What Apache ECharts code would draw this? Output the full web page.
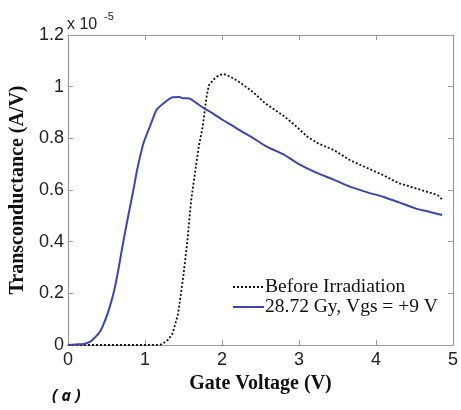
<!DOCTYPE html>
<html><head><meta charset="utf-8">
<script src="https://cdn.jsdelivr.net/npm/echarts@6/dist/echarts.min.js"></script>
<style>html,body{margin:0;padding:0;background:#fff}#c{width:461px;height:410px}</style>
</head><body><div id="c"></div>
<script>
const xTicks = [0,1,2,3,4,5];
const yTicks = [0,0.2,0.4,0.6,0.8,1.0,1.2];
const beforeX = [0,0.5,1.0,1.2,1.24,1.3,1.36,1.43,1.5,1.55,1.6,1.64,1.7,1.75,1.8,1.83,1.9,1.96,2.02,2.1,2.22,2.4,2.56,2.81,2.95,3.11,3.25,3.45,3.66,3.85,4.09,4.3,4.5,4.73,4.8,4.86];
const beforeY = [0,0,0,0.001,0.007,0.02,0.045,0.12,0.27,0.40,0.56,0.645,0.77,0.845,0.96,1.006,1.03,1.044,1.049,1.04,1.019,0.98,0.936,0.885,0.85,0.806,0.78,0.755,0.716,0.69,0.658,0.626,0.608,0.587,0.58,0.563];
const irrX = [0,0.1,0.2,0.24,0.3,0.34,0.4,0.45,0.53,0.6,0.66,0.725,0.79,0.85,0.9,0.98,1.07,1.15,1.26,1.36,1.45,1.49,1.55,1.6,1.7,1.77,1.9,2.0,2.13,2.26,2.4,2.58,2.81,3.0,3.24,3.45,3.66,3.9,4.09,4.3,4.51,4.7,4.86];
const irrY = [0,0.002,0.004,0.007,0.015,0.026,0.045,0.071,0.135,0.21,0.30,0.41,0.51,0.60,0.68,0.78,0.85,0.91,0.94,0.959,0.96,0.955,0.955,0.951,0.93,0.916,0.893,0.873,0.85,0.826,0.802,0.768,0.736,0.70,0.665,0.64,0.613,0.59,0.574,0.552,0.529,0.515,0.503];
const seriesNames = ['Before Irradiation','28.72 Gy, Vgs = +9 V'];

const pair = (xs, ys) => xs.map((x,i)=>[x, ys[i]]);
const tickFont = {fontFamily:'Liberation Sans, Arial', fontSize:18, color:'#222'};
const serifBold = {fontFamily:'Liberation Serif, Times New Roman', fontWeight:'bold', fontSize:20, color:'#111'};
const chart = echarts.init(document.getElementById('c'));
const axisCommon = {
  type:'value',
  axisLine:{show:true, onZero:false, lineStyle:{color:'#999', width:1.2}},
  axisTick:{show:true, inside:true, length:5, lineStyle:{color:'#999'}},
  splitLine:{show:false}
};
chart.setOption({
  animation:false,
  grid:{left:66.5, right:3, top:35, bottom:65, containLabel:false},
  legend:{
    left:227, top:272, orient:'vertical', itemWidth:31, itemHeight:10, itemGap:0,
    data:seriesNames,
    itemStyle:{opacity:0},
    textStyle:{fontFamily:'Liberation Serif, Times New Roman', fontSize:19.5, lineHeight:19, color:'#111', padding:[0,0,0,-4]}
  },
  xAxis:[
    Object.assign({}, axisCommon, {min:0, max:5, interval:1, position:'bottom',
      name:'Gate Voltage (V)', nameLocation:'middle', nameGap:22,
      nameTextStyle:serifBold,
      axisLabel:Object.assign({margin:6, formatter:v=>String(v)}, tickFont)}),
    Object.assign({}, axisCommon, {min:0, max:5, interval:1, position:'top', axisLabel:{show:false}})
  ],
  yAxis:[
    Object.assign({}, axisCommon, {min:0, max:1.2, interval:0.2, position:'left',
      name:'Transconductance (A/V)', nameLocation:'middle', nameGap:36,
      nameTextStyle:serifBold,
      axisLabel:Object.assign({margin:4, formatter:v=>{const r=Math.round(v*10)/10; return r===0?'0':(r===1?'1':String(r));}}, tickFont)}),
    Object.assign({}, axisCommon, {min:0, max:1.2, interval:0.2, position:'right', axisLabel:{show:false}})
  ],
  graphic:[
    {type:'text', left:67, top:17, style:{text:'x 10', font:'16px Liberation Sans, Arial', fill:'#222'}},
    {type:'text', left:104, top:11, style:{text:'-5', font:'11px Liberation Sans, Arial', fill:'#222'}},
    {type:'text', x:52, y:396, style:{text:'( a )', font:'italic bold 16px Open Sans, Liberation Sans', fill:'#111', verticalAlign:'middle'}}
  ],
  series:[
    {name:seriesNames[0], type:'line', data:pair(beforeX, beforeY), showSymbol:false, symbol:'none',
     lineStyle:{color:'#111', width:1.8, type:[2,2]}, itemStyle:{color:'#111'}},
    {name:seriesNames[1], type:'line', data:pair(irrX, irrY), showSymbol:false, symbol:'none', smooth:0.2,
     lineStyle:{color:'#3b45b3', width:2}, itemStyle:{color:'#3b45b3'}}
  ]
});
</script></body></html>
